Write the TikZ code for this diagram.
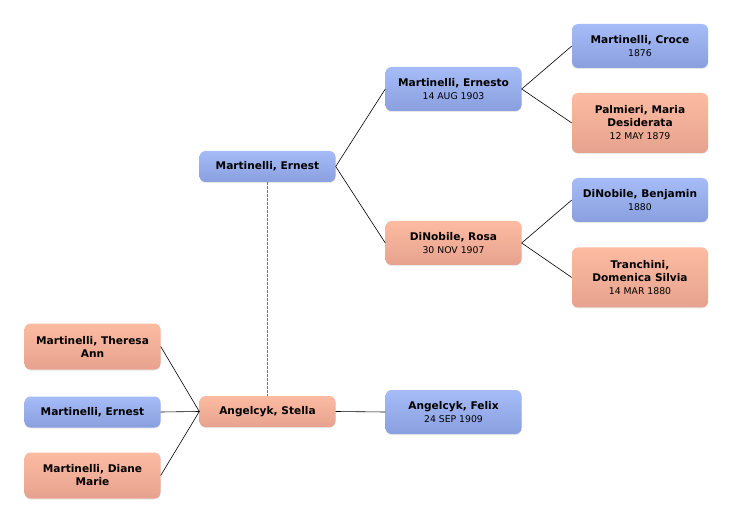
\documentclass[tikz,border=0pt]{standalone}
\usepackage{fontspec}
\setmainfont{DejaVu Sans}
\usetikzlibrary{shadows}
\definecolor{blueTop}{HTML}{A6BCF8}
\definecolor{blueBot}{HTML}{8A9FDE}
\definecolor{pinkTop}{HTML}{FDBBA2}
\definecolor{pinkBot}{HTML}{E6A28E}
\newcommand{\pdate}[1]{\\{\fontsize{9.3pt}{13pt}\mdseries\selectfont #1}}
\begin{document}
\begin{tikzpicture}[x=1pt,y=-1pt,
    person/.style={rounded corners=6pt, minimum width=136pt, minimum height=31pt,
       align=center, inner sep=2pt, font=\fontsize{10.6pt}{13pt}\bfseries\selectfont,
       drop shadow={opacity=0.18, shadow xshift=0pt, shadow yshift=-1pt}},
    male/.style={person, top color=blueTop, bottom color=blueBot},
    female/.style={person, top color=pinkTop, bottom color=pinkBot},
    link/.style={draw=black, line width=0.6pt},
    partner/.style={draw=black!55, line width=1.5pt, dash pattern=on 2.5pt off 1.5pt}]
     \useasboundingbox (0,0) rectangle (732,524);
     % ancestors
     \node[male] (ernest) at (267.5,166.5) {Martinelli, Ernest};
     \node[male, minimum height=44pt] (ernesto) at (453.5,89) {Martinelli, Ernesto\pdate{14 AUG 1903}};
     \node[female, minimum height=44pt] (rosa) at (453.5,243) {DiNobile, Rosa\pdate{30 NOV 1907}};
     \node[male, minimum height=44pt] (croce) at (640,46) {Martinelli, Croce\pdate{1876}};
     \node[female, minimum height=60pt] (palmieri) at (640,123) {Palmieri, Maria\\Desiderata\pdate{12 MAY 1879}};
     \node[male, minimum height=44pt] (benjamin) at (640,200) {DiNobile, Benjamin\pdate{1880}};
     \node[female, minimum height=60pt] (tranchini) at (640,277.5) {Tranchini,\\Domenica Silvia\pdate{14 MAR 1880}};
     % spouse and children
     \node[female] (stella) at (267.5,411.5) {Angelcyk, Stella};
     \node[male, minimum height=44pt] (felix) at (453.5,412) {Angelcyk, Felix\pdate{24 SEP 1909}};
     \node[female, minimum height=46pt] (theresa) at (92.5,346.5) {Martinelli, Theresa\\Ann};
     \node[male] (ernestjr) at (92.5,412) {Martinelli, Ernest};
     \node[female, minimum height=46pt] (diane) at (92.5,475.5) {Martinelli, Diane\\Marie};
     % connectors
     \draw[link] (ernesto.west) -- (ernest.east) -- (rosa.west);
     \draw[link] (croce.west) -- (ernesto.east) -- (palmieri.west);
     \draw[link] (benjamin.west) -- (rosa.east) -- (tranchini.west);
     \draw[link] (stella.east) -- (felix.west);
     \draw[link] (theresa.east) -- (stella.west);
     \draw[link] (ernestjr.east) -- (stella.west);
     \draw[link] (diane.east) -- (stella.west);
     \draw[partner] (ernest.south) -- (stella.north);
\end{tikzpicture}
\end{document}
